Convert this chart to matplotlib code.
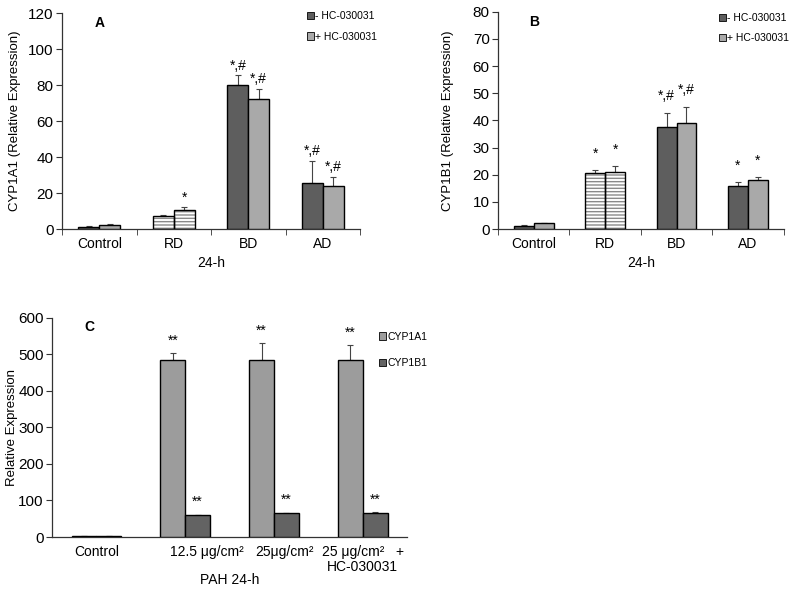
import matplotlib
matplotlib.use("Agg")
import matplotlib.pyplot as plt
from matplotlib.patches import Patch
import numpy as np

plt.rcParams['font.family'] = ['Liberation Sans', 'DejaVu Sans']

groups = ['Control', 'RD', 'BD', 'AD']
series_ab = ['- HC-030031', '+ HC-030031']

a_minus = [1.1, 7.2, 79.8, 25.6]
a_minus_err = [0.4, 0.6, 5.6, 12.3]
a_plus = [2.3, 10.4, 72.0, 24.2]
a_plus_err = [0.3, 1.8, 5.7, 4.8]
a_marks_minus = ['', '', '*,#', '*,#']
a_marks_plus = ['', '*', '*,#', '*,#']

b_minus = [1.2, 20.7, 37.7, 15.8]
b_minus_err = [0.2, 1.0, 5.2, 1.5]
b_plus = [2.1, 21.1, 39.0, 17.9]
b_plus_err = [0.2, 2.1, 5.9, 1.2]
b_marks_minus = ['', '*', '*,#', '*']
b_marks_plus = ['', '*', '*,#', '*']

c_groups = ['Control', '12.5 μg/cm²', '25μg/cm²', '25 μg/cm²   +\nHC-030031']
c_label_pos = [0, 1.24, 2.12, 3.0]
c_1a1 = [2.0, 485.5, 485.5, 485.5]
c_1a1_err = [0.0, 18.5, 45.5, 40.5]
c_1b1 = [1.5, 60.5, 65.5, 66.5]
c_1b1_err = [0.0, 1.0, 1.0, 1.5]
c_marks_1a1 = ['', '**', '**', '**']
c_marks_1b1 = ['', '**', '**', '**']
c_series = ['CYP1A1', 'CYP1B1']

dark = '#5e5e5e'
light = '#a9a9a9'
axis_col = '#333333'
w = 0.28
hatched = [False, True, False, False]

fig = plt.figure(figsize=(8, 5.92), dpi=100)


def style_axis(ax):
    for s in ['top', 'right']:
        ax.spines[s].set_visible(False)
    for s in ['left', 'bottom']:
        ax.spines[s].set_color(axis_col)
        ax.spines[s].set_linewidth(0.9)
    ax.tick_params(axis='y', labelsize=11, length=4, color=axis_col, pad=2)


def draw_pair(ax, vals, errs, marks, offset, color, pad):
    x = np.arange(len(groups)) + offset
    for i in range(len(groups)):
        if hatched[i]:
            ax.bar(x[i], vals[i], w, color='white', edgecolor='#8a8a8a',
                   hatch='-----', linewidth=0, zorder=2)
            ax.bar(x[i], vals[i], w, fill=False, edgecolor='black',
                   linewidth=1.0, zorder=3)
        else:
            ax.bar(x[i], vals[i], w, color=color, edgecolor='black',
                   linewidth=1.0, zorder=3)
    ax.errorbar(x, vals, yerr=[np.zeros(len(errs)), errs], fmt='none',
                ecolor='#444444', elinewidth=0.8, capsize=2.5, capthick=0.8,
                zorder=2)
    for xi, v, e, m in zip(x, vals, errs, marks):
        if m:
            ax.annotate(m, (xi, v + e), xytext=(0, pad), textcoords='offset points',
                        ha='center', va='center', fontsize=10)


def panel_ab(rect, minus, minus_err, plus, plus_err, mk_m, mk_p, ymax, step,
             ylabel, letter, pad, leg_xy, ylab_x):
    ax = fig.add_axes(rect)
    style_axis(ax)
    draw_pair(ax, minus, minus_err, mk_m, -w / 2, dark, pad)
    draw_pair(ax, plus, plus_err, mk_p, w / 2, light, pad)
    ax.set_xlim(-0.5, 3.5)
    ax.set_ylim(0, ymax)
    ax.set_yticks(np.arange(0, ymax + 1, step))
    ax.set_xticks(range(len(groups)))
    ax.set_xticklabels(groups, fontsize=10)
    ax.set_xticks(np.arange(-0.5, 4, 1), minor=True)
    ax.tick_params(axis='x', which='major', length=0, pad=6)
    ax.tick_params(axis='x', which='minor', length=4, color=axis_col)
    ax.set_xlabel('24-h', fontsize=10, labelpad=3)
    ax.set_ylabel(ylabel, fontsize=9.5, va='center')
    ax.yaxis.set_label_coords(ylab_x, 0.5)
    ax.text(0.11, 0.985, letter, transform=ax.transAxes, fontsize=10,
            fontweight='bold', va='top')
    handles = [Patch(facecolor=dark, edgecolor='black', linewidth=0.6),
               Patch(facecolor=light, edgecolor='black', linewidth=0.6)]
    fig.legend(handles, series_ab, loc='upper left', bbox_to_anchor=leg_xy,
               frameon=False, fontsize=7.5, handlelength=0.7, handleheight=0.7,
               handletextpad=0.15, labelspacing=1.0, borderaxespad=0)
    return ax


panel_ab([0.0775, 0.613, 0.3725, 0.365], a_minus, a_minus_err, a_plus, a_plus_err,
         a_marks_minus, a_marks_plus, 120, 20, 'CYP1A1 (Relative Expression)', 'A',
         7, (0.378, 0.988), -0.158)
panel_ab([0.6225, 0.613, 0.357, 0.367], b_minus, b_minus_err, b_plus, b_plus_err,
         b_marks_minus, b_marks_plus, 80, 10, 'CYP1B1 (Relative Expression)', 'B',
         12, (0.893, 0.985), -0.175)

# panel C
ax = fig.add_axes([0.065, 0.0929, 0.444, 0.37])
style_axis(ax)
xc = np.arange(len(c_groups))
for vals, errs, marks, off, col in [(c_1a1, c_1a1_err, c_marks_1a1, -w / 2, '#9c9c9c'),
                                    (c_1b1, c_1b1_err, c_marks_1b1, w / 2, '#636363')]:
    ax.bar(xc + off, vals, w, color=col, edgecolor='black', linewidth=1.0, zorder=3)
    ax.errorbar(xc + off, vals, yerr=[np.zeros(len(errs)), errs], fmt='none',
                ecolor='#444444', elinewidth=0.8, capsize=2.5, capthick=0.8, zorder=2)
    for xi, v, e, m in zip(xc + off, vals, errs, marks):
        if m:
            ax.annotate(m, (xi, v + e), xytext=(0, 9), textcoords='offset points',
                        ha='center', va='center', fontsize=10)
ax.set_xlim(-0.5, 3.5)
ax.set_ylim(0, 600)
ax.set_yticks(np.arange(0, 601, 100))
ax.set_xticks(c_label_pos)
ax.set_xticklabels(c_groups, fontsize=10, linespacing=1.05)
ax.tick_params(axis='x', length=0, pad=6)
ax.set_xlabel('PAH 24-h', fontsize=10, va='center')
ax.xaxis.set_label_coords(0.5, -0.196)
ax.set_ylabel('Relative Expression', fontsize=9.5, va='center')
ax.yaxis.set_label_coords(-0.113, 0.5)
ax.text(0.09, 0.99, 'C', transform=ax.transAxes, fontsize=10, fontweight='bold', va='top')
handles = [Patch(facecolor='#9c9c9c', edgecolor='black', linewidth=0.6),
           Patch(facecolor='#636363', edgecolor='black', linewidth=0.6)]
fig.legend(handles, c_series, loc='upper left', bbox_to_anchor=(0.468, 0.447),
           frameon=False, fontsize=7.5, handlelength=0.7, handleheight=0.7,
           handletextpad=0.15, labelspacing=1.6, borderaxespad=0)

fig.savefig('out.png', dpi=100)
